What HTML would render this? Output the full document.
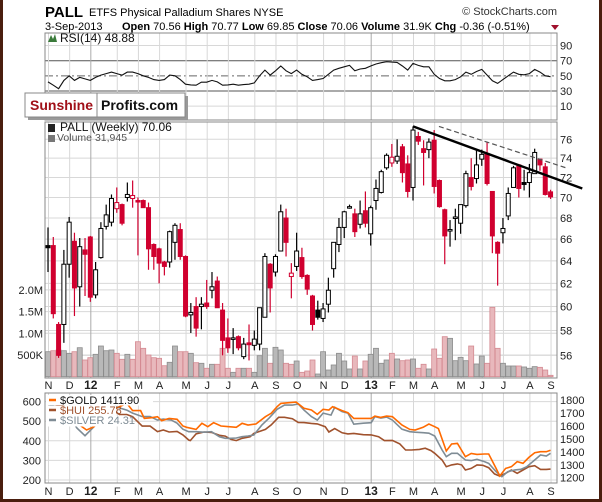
<!DOCTYPE html>
<html><head><meta charset="utf-8"><style>
body{margin:0;background:#fff}
svg{display:block;font-family:"Liberation Sans",sans-serif}
</style></head><body>
<svg id="c" width="602" height="502" viewBox="0 0 602 502">
<rect x="0" y="0" width="602" height="502" fill="#fff"/>
<g id="grid"></g>
<g id="marks"></g>
<g id="txt">
<text x="45" y="17" font-size="15" font-weight="bold">PALL</text>
<text x="89" y="16" font-size="11">ETFS Physical Palladium Shares  NYSE</text>
<text x="557" y="15" font-size="11" fill="#333" text-anchor="end">© StockCharts.com</text>
<text x="45" y="30" font-size="11">3-Sep-2013</text>
<text x="122" y="30" font-size="11"><tspan font-weight="bold">Open</tspan> 70.56  <tspan font-weight="bold">High</tspan> 70.77  <tspan font-weight="bold">Low</tspan> 69.85  <tspan font-weight="bold">Close</tspan> 70.06  <tspan font-weight="bold">Volume</tspan> 31.9K  <tspan font-weight="bold">Chg</tspan> -0.36 (-0.51%)</text>
<path d="M551 25 L559 25 L555 30 Z" fill="#a0102c"/>
</g>
</svg>
<script>
// ---- data ----
const opens=[65.4,65.4,58.5,58.5,63.7,65.8,61.7,65.0,66.2,61.0,64.3,67.2,67.6,68.9,69.3,70.0,69.9,69.7,69.7,69.0,65.5,65.1,63.9,63.9,65.7,66.9,64.4,59.3,60.0,60.0,60.3,61.4,62.2,59.7,57.4,57.3,57.5,55.9,57.0,56.8,56.9,59.1,63.7,63.0,64.9,68.0,62.6,63.5,64.3,62.7,60.9,59.7,59.0,60.2,63.3,65.5,67.1,69.0,68.4,67.4,68.7,66.5,69.7,70.5,73.0,73.5,73.7,75.2,73.4,71.0,76.3,75.0,74.9,75.9,71.7,68.8,66.8,68.0,67.5,69.2,72.0,71.9,73.9,74.5,70.6,65.7,66.6,68.2,71.0,73.3,71.5,71.5,72.4,73.9,73.1,70.56];
const highs=[67.1,66.2,58.7,65.0,68.1,66.6,66.1,66.1,66.3,63.9,67.6,69.3,70.3,71.0,69.4,71.5,71.7,70.0,69.8,69.5,65.6,65.2,64.0,66.8,67.5,67.5,64.5,60.3,60.8,60.8,62.3,63.0,62.6,60.3,59.0,58.2,57.6,57.4,58.5,58.0,59.9,64.7,63.8,64.6,69.3,68.9,63.8,66.6,65.2,62.8,61.0,60.5,60.3,62.5,65.7,68.0,68.7,69.3,68.9,69.7,70.6,69.2,71.8,72.8,74.5,75.5,76.0,75.5,74.3,77.4,76.8,75.9,76.1,77.0,71.8,68.9,67.8,68.9,69.3,72.7,74.0,74.8,74.9,75.7,70.6,65.8,68.0,71.0,73.2,73.4,72.8,73.4,75.0,73.9,73.5,70.77];
const lows=[63.0,59.0,55.8,57.0,62.5,59.2,60.0,60.9,60.4,60.7,64.2,66.9,67.2,68.5,67.3,69.6,69.0,64.5,69.0,63.2,63.2,62.0,62.7,63.4,64.1,64.1,59.1,57.8,57.5,58.1,59.8,60.7,59.9,56.0,56.2,56.1,56.4,55.7,55.6,56.4,56.4,59.1,59.5,62.6,64.9,64.4,60.7,63.1,62.4,61.0,58.0,58.9,58.7,59.5,62.5,64.8,66.1,68.9,66.2,67.0,67.1,65.4,68.8,70.4,72.8,73.1,73.4,71.5,70.0,69.7,75.4,71.2,74.0,70.4,69.0,63.7,65.3,65.9,66.5,69.0,70.7,71.4,73.2,71.2,64.7,61.8,65.6,67.8,71.0,70.0,70.7,70.0,72.4,72.7,70.2,69.85];
const closes=[65.2,59.4,56.0,63.7,67.6,61.6,65.3,64.6,60.8,63.2,67.0,68.3,69.9,69.5,67.5,70.3,70.2,69.6,69.0,65.1,64.4,63.8,63.5,66.7,67.3,64.4,59.2,59.5,58.2,60.2,60.0,61.7,59.9,57.2,56.6,57.4,56.6,56.9,56.85,57.3,59.9,64.4,61.6,64.4,68.6,65.7,62.9,64.9,62.6,61.5,58.5,59.1,59.8,61.4,65.7,67.1,68.6,69.1,66.7,68.4,67.5,69.0,70.9,72.6,74.3,74.1,74.2,72.5,70.6,77.0,75.8,74.6,75.7,71.1,69.1,66.3,66.9,68.1,69.3,72.4,71.1,73.3,74.4,71.4,66.3,64.7,67.0,70.4,73.0,70.9,71.3,72.5,74.6,73.3,70.3,70.06];
const volumesK=[576,599,615,599,539,576,668,385,438,516,707,599,615,539,401,516,401,806,654,500,438,424,253,332,707,576,576,539,323,309,194,286,286,654,194,101,194,194,194,101,484,654,309,677,615,309,286,362,101,131,385,62,576,154,270,539,362,178,477,178,362,516,654,309,385,539,408,369,385,408,194,286,178,638,424,922,884,369,446,369,707,293,477,309,1599,654,309,247,247,247,224,194,232,216,154,32];
const rsiValues=[42,37.6,33,44,50,44,48,46,44,48,51,53,55,53,51,55,55,53,50,48,45,44,45,51,50,45,39,38,37.6,41.6,41.6,44,42,37.6,38,39,37.6,38.5,39,40.7,50,57.6,51,56.7,63,56.7,53,57.6,52,48.7,44,45,46.5,52,57.6,60,62,63.8,56.7,59,60,63,65.6,67.3,68.7,68.2,67.8,63,57.6,66.4,63.8,62,62,52,46.5,43.4,43.4,45,48.7,55,52,55.8,58.5,51,43.4,40,45,50,55,52,51.4,53,58.5,55,50,48.9];
const monthLabels=["N","D","12","F","M","A","M","J","J","A","S","O","N","D","13","F","M","A","M","J","J","A","S"];
const monthWeeks=[0,4,8,13,17,21,26,30,34,39,43,47,52,56,61,65,69,73,78,82,86,91,95];
const priceTicks=[56,58,60,62,64,66,68,70,72,74,76];
const volTicksK=[500,1000,1500,2000];
const volTickLabels=["500K","1.0M","1.5M","2.0M"];
const rsiTicks=[10,30,50,70,90];
const goldWeeks=[0,2,4,5.5,7.3,8.7,12.7,13.5,14.9,16.0,17.5,18.2,19.6,20.7,21.5,22.9,24.4,25.5,26.2,28.0,29.1,30.2,31.3,32.7,34.2,35.6,36.7,37.8,39.3,41.1,42.2,43.3,44.0,45.5,46.9,48.4,49.8,50.9,52.0,53.1,53.8,55.6,56.7,57.8,59.6,61.1,61.8,62.9,64.0,65.1,66.9,68.4,69.4,70.9,72.0,73.1,73.8,75.3,76.3,77.4,78.9,80.0,81.1,82.5,83.3,84.7,85.4,86.5,87.6,88.7,89.8,90.9,92.0,93.1,94.2,95.0];
const goldValues=[1750,1720,1700,1620,1568,1594,1736,1748,1774,1718,1718,1658,1663,1671,1640,1658,1651,1599,1589,1573,1620,1594,1625,1599,1594,1589,1620,1607,1615,1671,1697,1748,1774,1779,1784,1736,1723,1689,1728,1723,1748,1718,1702,1658,1658,1658,1676,1666,1676,1671,1607,1573,1568,1589,1615,1594,1579,1406,1460,1465,1362,1388,1380,1383,1383,1272,1213,1272,1285,1324,1311,1357,1393,1401,1401,1411.9];
const huiWeeks=[0,4,7,10,12.7,13.5,14.9,16.0,17.8,19.3,20.7,21.8,22.9,24.4,25.5,26.6,26.9,28.0,29.5,30.9,32.4,33.5,34.6,35.6,36.7,38.2,38.9,41.1,42.2,43.6,44.7,46.2,47.3,48.4,49.8,50.9,52.4,53.1,54.2,55.6,56.7,57.8,59.6,61.1,62.5,63.6,65.1,66.5,67.6,68.7,70.2,71.3,72.4,73.1,74.5,75.3,76.3,77.4,78.2,78.9,80.0,81.1,82.2,83.3,84.4,85.4,86.5,87.6,88.7,89.8,90.9,92.0,93.1,94.2,95.0];
const huiValues=[590,570,545,560,549,534,534,523,475,475,447,455,445,448,430,404,401,435,445,443,428,424,407,401,413,421,438,458,481,520,520,513,494,493,489,486,472,445,462,441,435,438,431,430,421,401,402,384,353,353,356,362,350,336,302,268,277,282,277,251,259,277,275,263,231,220,234,251,234,251,268,273,254,254,255.78];
const silverWeeks=[0,3,5.5,7.0,8.7,12.7,14.9,16.0,17.8,19.3,20.7,21.8,23.3,24.4,25.5,26.6,28.0,29.5,30.9,32.4,33.5,34.6,35.6,36.7,37.8,38.9,40.4,41.8,43.3,44.7,46.2,47.3,48.4,49.8,50.9,52.0,53.5,54.2,55.6,56.7,57.8,59.6,61.1,61.8,62.9,64.0,65.1,66.9,68.4,69.4,70.9,72.0,73.1,74.5,75.3,76.3,77.4,78.9,80.0,81.1,82.5,83.3,84.7,85.8,86.9,88.3,89.4,90.5,92.0,93.1,94.2,95.0];
const silverValues=[34,33,29.3,27.8,29.6,33.6,32.9,32.3,31.6,31.6,30.9,31.1,30.9,30.3,29.1,28.6,28.6,28.5,28.6,27.6,27.3,27.3,27.35,27.6,27.75,27.95,29.9,31.3,33.05,33.9,33.9,34.1,32.9,31.6,30.9,32.3,31.9,33.45,32.6,32.3,30.1,30.3,30.4,31.6,31.3,31.5,30.9,29.1,28.6,28.5,28.4,28.3,27.75,24.97,23.64,24.3,24.3,22.98,22.85,23.11,22.65,22.3,20.66,19.66,20.66,21.0,21.12,21.65,22.98,23.97,23.77,24.31];
const hui2Ticks=[200,300,400,500,600];
const goldTicks=[1200,1300,1400,1500,1600,1700,1800];
const trendSolidWeeks=[69,101];
const trendSolidPrices=[77.4,70.9];
const trendDashWeeks=[73.9,97.9];
const trendDashPrices=[77.4,73.0];

// ---- axes ----
const X=i=>48+5.29*i;
const yP=p=>3203.3-707.5*Math.log(p);
const yV=v=>376.7-v/23.04;
const yR=r=>60.7+(70-r)*0.7575;
const yGold=g=>477.7-(g-1200)*0.1295;
const yHui=h=>480-(h-200)*0.196;
const ySil=s=>480-(s-19)*5.03;

const NS="http://www.w3.org/2000/svg";
const grid=document.getElementById('grid'), marks=document.getElementById('marks'), svg=document.getElementById('c');
function mk(parent,tag,attrs,text){const e=document.createElementNS(NS,tag);for(const k in attrs)e.setAttribute(k,attrs[k]);if(text!==undefined)e.textContent=text;parent.appendChild(e);return e;}

const L=45,R=557;
const panels=[[33,120],[122,378],[393,483]];
rsiTicks.forEach(t=>{
  const y=yR(t);
  const st=(t==30||t==70)?{stroke:'#555','stroke-width':1}:(t==50?{stroke:'#666','stroke-width':1,'stroke-dasharray':'8,3,2,3'}:{stroke:'#d8d8d8','stroke-width':1});
  const ln=mk(grid,'line',Object.assign({x1:L,x2:R,y1:y,y2:y},st));
  
  
  const tx=mk(grid,'text',{x:560,y:y+4,'font-size':11,fill:'#222'},String(t));
  
  
});
priceTicks.forEach(t=>{
  const y=yP(t);
  const ln=mk(grid,'line',{x1:L,x2:R,y1:y,y2:y,stroke:'#d8d8d8'});
  
  
  const tx=mk(grid,'text',{x:560,y:y+4,'font-size':11,fill:'#222'},String(t));
  
  
});
volTicksK.forEach((t,k)=>{
  const y=yV(t);
  const ln=mk(grid,'line',{x1:L,x2:R,y1:y,y2:y,stroke:'#d8d8d8'});
  
  
  const tx=mk(grid,'text',{x:43,y:y+4,'font-size':11,fill:'#222','text-anchor':'end'},volTickLabels[k]);
  
  
});
hui2Ticks.forEach(t=>{
  const y=yHui(t);
  const ln=mk(grid,'line',{x1:L,x2:R,y1:y,y2:y,stroke:'#d8d8d8'});
  
  
  const tx=mk(grid,'text',{x:41,y:y+4,'font-size':11,fill:'#222','text-anchor':'end'},String(t));
  
  
});
goldTicks.forEach(t=>{
  const y=yGold(t);
  const tx=mk(grid,'text',{x:560,y:y+4,'font-size':11,fill:'#222'},String(t));
  
  
});
monthWeeks.forEach((w,k)=>{
  const x=X(w)+0.5, yr=/\d/.test(monthLabels[k]);
  panels.forEach(p=>{
    const ln=mk(grid,'line',{x1:x,x2:x,y1:p[0],y2:p[1],stroke:yr?'#aaa':'#d8d8d8'});
    
    
  });
  [389,495].forEach(y=>{
    const tx=mk(grid,'text',{x:x,y:y,'font-size':yr?12:11,'font-weight':yr?'bold':'normal','text-anchor':'middle',fill:'#222'},monthLabels[k]);
    
    
  });
});
panels.forEach(p=>{
  const r=mk(grid,'rect',{x:L,y:p[0],width:R-L,height:p[1]-p[0],fill:'none',stroke:'#888'});
  
  
});

{
  const d=rsiValues.map((v,i)=>(i?'L':'M')+X(i).toFixed(1)+' '+yR(v).toFixed(1)).join(' ');
  const p=mk(marks,'path',{d:d,fill:'none',stroke:'#111','stroke-width':1.1});
  
  
}
volumesK.forEach((v,i)=>{
  const down=i>0&&closes[i]<closes[i-1];
  const y=yV(v);
  const r=mk(marks,'rect',{x:X(i)-2.5,y:y,width:5,height:376.7-y,fill:down?'#e8b8bc':'#b8b8b8',stroke:down?'#d48a92':'#8c8c8c','stroke-width':0.8});
  
  
});
opens.forEach((o,i)=>{
  const c=closes[i], down=i>0&&c<closes[i-1];
  const col=down?'#d0002f':'#000';
  const x=X(i);
  const w=mk(marks,'line',{x1:x,x2:x,y1:yP(highs[i]),y2:yP(lows[i]),stroke:col,'stroke-width':1.2});
  
  
  const top=yP(Math.max(o,c)), bot=yP(Math.min(o,c));
  const hollow=c>=o;
  const b=mk(marks,'rect',{x:x-2,y:top,width:4,height:Math.max(bot-top,1.5),fill:hollow?'#fff':col,stroke:col,'stroke-width':1});
  
  
});
{
  const a=mk(marks,'line',{x1:X(trendDashWeeks[0]),y1:yP(trendDashPrices[0]),x2:X(trendDashWeeks[1]),y2:yP(trendDashPrices[1]),stroke:'#555','stroke-width':1.2,'stroke-dasharray':'5,3'});
  
  
  const b=mk(marks,'line',{x1:X(trendSolidWeeks[0]),y1:yP(trendSolidPrices[0]),x2:X(trendSolidWeeks[1]),y2:yP(trendSolidPrices[1]),stroke:'#000','stroke-width':2.4});
  
  
}
function series(weeks,vals,fy,col,name){
  const d=vals.map((v,k)=>(k?'L':'M')+X(weeks[k]).toFixed(1)+' '+fy(v).toFixed(1)).join(' ');
  const p=mk(marks,'path',{d:d,fill:'none',stroke:col,'stroke-width':1.6});
  
  
}
series(huiWeeks,huiValues,yHui,'#a0522d','hui-line');
series(silverWeeks,silverValues,ySil,'#7f8c95','silver-line');
series(goldWeeks,goldValues,yGold,'#ff6a00','gold-line');

const ov=mk(svg,'g',{});


function T(x,y,s,txt,attrs,name){const t=mk(ov,'text',Object.assign({x:x,y:y,'font-size':s},attrs||{}),txt);return t;}
T(60,42,12,'RSI(14) 48.88',{fill:'#111'},'rsi-label');
mk(ov,'path',{d:'M48 42 L51 35 L53 39 L55 34 L57 42 Z',fill:'#3a7a3a'});
T(60,131,12,'PALL (Weekly) 70.06',{fill:'#111'},'price-label');
T(57,141,10.5,'Volume 31,945',{fill:'#555'},'volume-label');
mk(ov,'rect',{x:48,y:124,width:7,height:8,fill:'#222'});
mk(ov,'rect',{x:48,y:135,width:7,height:7,fill:'#777'});
[[395,153],[406,116],[416,128]].forEach(r=>{const e=mk(ov,'rect',{x:46,y:r[0],width:r[1]-46,height:10.5,fill:'#fff'});});
[['#ff6a00','$GOLD  1411.90','#111',404],['#a0522d','$HUI  255.78','#a0522d',414],['#7f8c95','$SILVER  24.31','#7f8c95',424]].forEach(e=>{
  const l=mk(ov,'line',{x1:49,x2:56,y1:e[3]-4,y2:e[3]-4,stroke:e[0],'stroke-width':2.5});
  
  
  T(60,e[3],11,e[1],{fill:e[2]},'legend-entry');
});
mk(ov,'rect',{x:28,y:96,width:160,height:24,fill:'#999'});
const lg=mk(ov,'rect',{x:25,y:93,width:160,height:24,fill:'#fff',stroke:'#888'});


mk(ov,'line',{x1:97,x2:97,y1:93,y2:117,stroke:'#888'});
T(30,110,14,'Sunshine',{fill:'#a01018','font-weight':'bold'},'logo-sunshine-text');
T(101,110,14,'Profits.com',{fill:'#111','font-weight':'bold'},'logo-profits-text');
['M1.5 0 V500.5 H600.5 V0'].forEach(d=>{const f=mk(svg,'path',{d:d,fill:'none',stroke:'#4a1e0e','stroke-width':3});});
</script>
</body></html>
